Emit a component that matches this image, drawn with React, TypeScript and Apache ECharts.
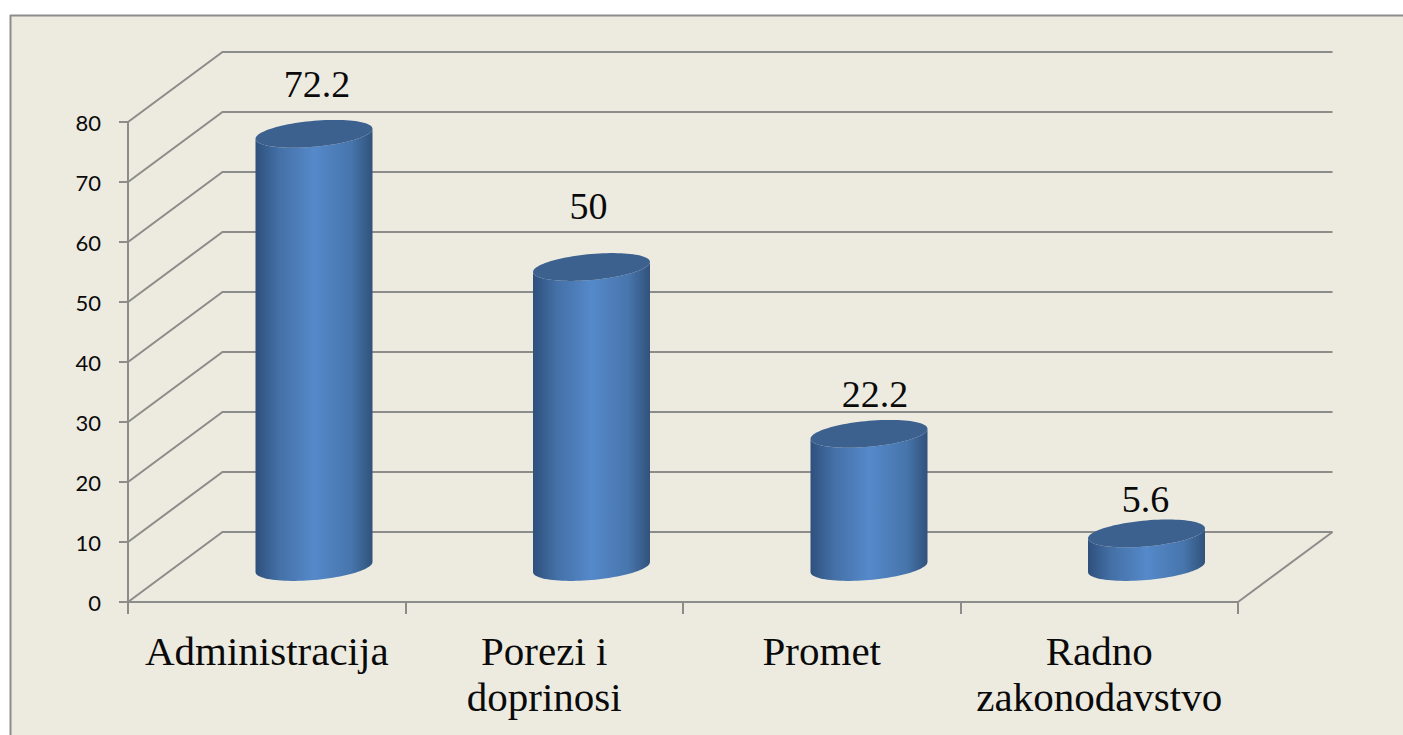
import React, { useEffect, useRef } from "react";
import * as echarts from "echarts";

const categories = ["Administracija", "Porezi i\ndoprinosi", "Promet", "Radno\nzakonodavstvo"];
const values = [72.2, 50, 22.2, 5.6];
const valueLabels = ["72.2", "50", "22.2", "5.6"];
const yTicks = [0, 10, 20, 30, 40, 50, 60, 70, 80];

const labelShiftX = [3, -3, 6, -1];
const labelShiftY = [-50, -61, -40, -34];

const DEPTH_X = 94.5;
const DEPTH_Y = -70;
const RX = 58.5;
const RY = 13;
const SKEW = 5;
const LINE = "#8c8c8a";

function ellipsePoints(cx: number, cy: number, from: number, to: number, steps: number) {
  const pts: number[][] = [];
  for (let i = 0; i <= steps; i++) {
    const t = from + ((to - from) * i) / steps;
    const c = Math.cos(t);
    pts.push([cx + RX * c, cy + RY * Math.sin(t) - SKEW * c]);
  }
  return pts;
}

export default function App() {
  const ref = useRef<HTMLDivElement>(null);
  useEffect(() => {
    const chart = echarts.init(ref.current!, undefined, { renderer: "svg" });
    const sideFill = new echarts.graphic.LinearGradient(0, 0, 1, 0, [
      { offset: 0, color: "#2e507d" },
      { offset: 0.2, color: "#4470a6" },
      { offset: 0.5, color: "#5589ca" },
      { offset: 0.82, color: "#4775ac" },
      { offset: 1, color: "#31527b" },
    ]);
    chart.setOption({
      animation: false,
      backgroundColor: "#ffffff",
      graphic: [
        { type: "rect", z: -10, shape: { x: 10, y: 15, width: 1393, height: 720 }, style: { fill: "#edebe0" } },
        { type: "line", z: -9, shape: { x1: 10.5, y1: 15, x2: 10.5, y2: 735 }, style: { stroke: "#8c8c8c", lineWidth: 2 } },
        { type: "line", z: -9, shape: { x1: 10, y1: 15.5, x2: 1403, y2: 15.5 }, style: { stroke: "#8c8c8c", lineWidth: 2 } },
      ],
      grid: { left: 128, right: 165, top: 122, bottom: 133, containLabel: false },
      xAxis: {
        type: "category",
        data: categories,
        boundaryGap: true,
        axisLine: { lineStyle: { color: LINE, width: 2 } },
        axisTick: { show: true, length: 12, lineStyle: { color: LINE, width: 2 } },
        axisLabel: {
          interval: 0,
          margin: 26,
          color: "#0a0a0a",
          fontFamily: "'Liberation Serif'",
          fontSize: 41,
          lineHeight: 46,
        },
      },
      yAxis: {
        type: "value",
        min: 0,
        max: 80,
        interval: 10,
        splitLine: { show: false },
        axisLine: { show: true, lineStyle: { color: LINE, width: 2 } },
        axisTick: { show: true, length: 9, lineStyle: { color: LINE, width: 2 } },
        axisLabel: { margin: 27, padding: [4, 0, 0, 0], color: "#0a0a0a", fontFamily: "Lato", fontSize: 22 },
      },
      series: [
        {
          type: "custom",
          silent: true,
          clip: false,
          z: 1,
          data: yTicks.map((v) => [0, v]),
          renderItem: (params: any, api: any) => {
            const y = api.coord([0, api.value(1)])[1];
            const sys = params.coordSys;
            const left = sys.x;
            const right = sys.x + sys.width;
            const stroke = { stroke: LINE, lineWidth: 2, fill: "none" };
            const children: any[] = [
              {
                type: "polyline",
                shape: { points: [[left, y], [left + DEPTH_X, y + DEPTH_Y], [right + DEPTH_X, y + DEPTH_Y]] },
                style: stroke,
              },
            ];
            if (api.value(1) === 0) {
              children.push({
                type: "line",
                shape: { x1: right, y1: y, x2: right + DEPTH_X, y2: y + DEPTH_Y },
                style: stroke,
              });
            }
            return { type: "group", children };
          },
        },
        {
          type: "custom",
          silent: true,
          clip: false,
          z: 2,
          data: values.map((v, i) => [i, v]),
          renderItem: (params: any, api: any) => {
            const i = api.value(0);
            const top = api.coord([i, api.value(1)]);
            const base = api.coord([i, 0]);
            const cx = top[0] + DEPTH_X / 2;
            const topY = top[1] + DEPTH_Y / 2;
            const baseY = base[1] + DEPTH_Y / 2;
            const body = [
              ...ellipsePoints(cx, topY, Math.PI, 0, 48),
              ...ellipsePoints(cx, baseY, 0, Math.PI, 48),
            ];
            const cap = ellipsePoints(cx, topY, 0, Math.PI * 2, 96);
            return {
              type: "group",
              children: [
                { type: "polygon", shape: { points: body }, style: { fill: sideFill } },
                { type: "polygon", shape: { points: cap }, style: { fill: "#3c618f" } },
                {
                  type: "text",
                  style: {
                    text: valueLabels[i],
                    x: cx + labelShiftX[i],
                    y: topY + labelShiftY[i],
                    align: "center",
                    verticalAlign: "middle",
                    fill: "#0a0a0a",
                    font: "38px 'Liberation Serif'",
                  },
                },
              ],
            };
          },
        },
      ],
    });
    return () => chart.dispose();
  }, []);
  return <div ref={ref} style={{ position: "fixed", left: 0, top: 0, width: 1403, height: 735 }} />;
}
